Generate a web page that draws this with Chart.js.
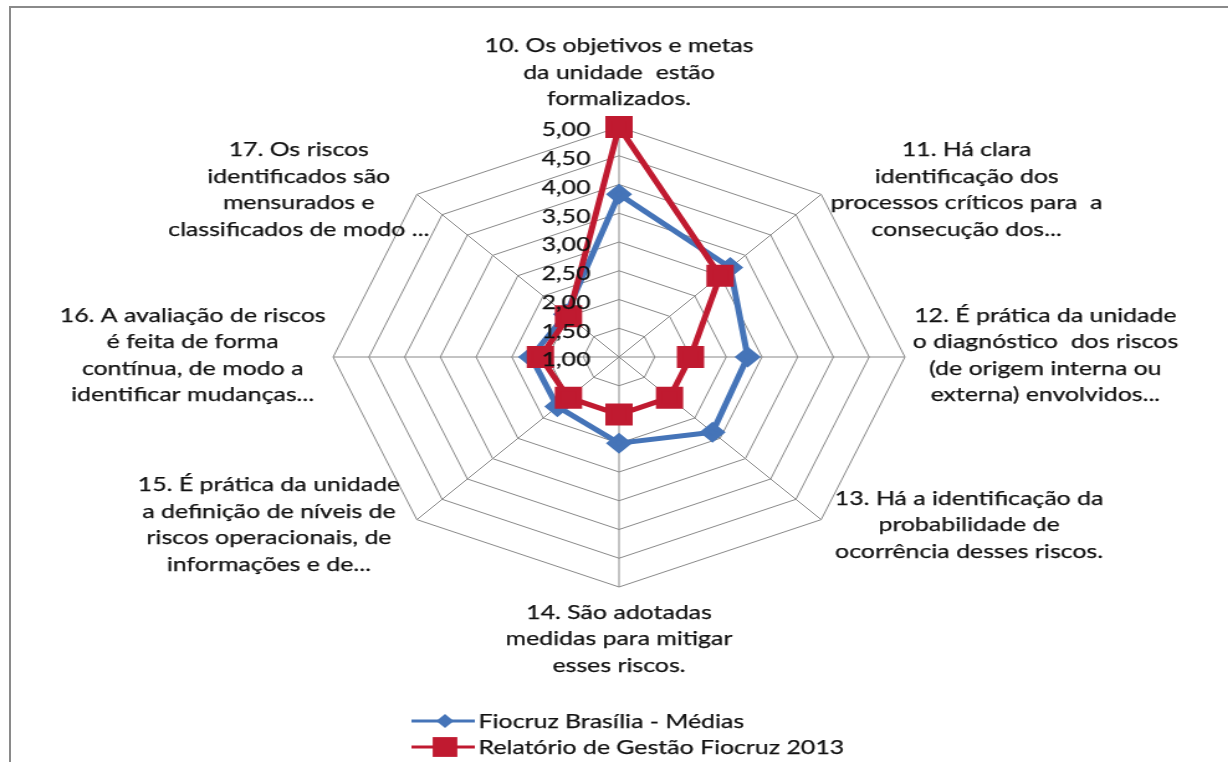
<!DOCTYPE html>
<html>
<head>
<meta charset="utf-8">
<script src="https://cdn.jsdelivr.net/npm/chart.js@4.4.1/dist/chart.umd.min.js"></script>
<style>
  html, body { margin: 0; padding: 0; background: #fff; overflow: hidden; }
  #frame { position: absolute; left: 9px; top: 6px; width: 1240px; height: 780px;
           border-top: 2px solid #8a8a8a; border-left: 2px solid #8a8a8a; }
  #wrap { position: absolute; left: 0; top: 0; width: 988px; height: 762px;
          transform: scaleX(1.243); transform-origin: 0 0; }
</style>
</head>
<body>
<div id="frame"></div>
<div id="wrap"><canvas id="chart" width="988" height="762"></canvas></div>
<script>
const categories = [
  ['10. Os objetivos e metas', 'da unidade  estão', 'formalizados.'],
  ['11. Há clara', 'identificação dos', 'processos críticos para  a', 'consecução dos...'],
  ['12. É prática da unidade', 'o diagnóstico  dos riscos', '(de origem interna ou', 'externa) envolvidos...'],
  ['13. Há a identificação da', 'probabilidade de', 'ocorrência desses riscos.'],
  ['14. São adotadas', 'medidas para mitigar', 'esses riscos.'],
  ['15. É prática da unidade', 'a definição de níveis de', 'riscos operacionais, de', 'informações e de...'],
  ['16. A avaliação de riscos', 'é feita de forma', 'contínua, de modo a', 'identificar mudanças...'],
  ['17. Os riscos', 'identificados são', 'mensurados e', 'classificados de modo ...']
];
const seriesNames = ['Fiocruz Brasília - Médias', 'Relatório de Gestão Fiocruz 2013'];
const brasiliaValues = [3.83, 3.2, 2.8, 2.85, 2.5, 2.22, 2.23, 2.05];
const relatorioValues = [5.0, 3.0, 2.0, 2.0, 2.0, 2.0, 2.1, 2.0];
const tickLabels = ['1,00', '1,50', '2,00', '2,50', '3,00', '3,50', '4,00', '4,50', '5,00'];

const FONT = '20px Lato, "Open Sans", sans-serif';
const BLUE = '#4574b8';
const RED = '#c01a30';
const TEXT = '#111';

// small nudges (canvas px) so label blocks sit where Excel put them
const labelShift = [0, -2, -6, 0, 0, 0, 6, 24];

function darkText(ctx, t, x, y) {
  ctx.fillText(t, x, y);
  ctx.strokeText(t, x, y);
}

// tick labels sit left of the vertical axis, right aligned
const tickLabelPlugin = {
  id: 'tickLabels',
  afterDatasetsDraw(chart) {
    const scale = chart.scales.r;
    const ctx = chart.ctx;
    ctx.save();
    ctx.font = FONT;
    ctx.fillStyle = TEXT;
    ctx.strokeStyle = TEXT;
    ctx.lineWidth = 0.25;
    ctx.textAlign = 'right';
    ctx.textBaseline = 'middle';
    scale.ticks.forEach((tick, i) => {
      const d = scale.getDistanceFromCenterForValue(tick.value);
      darkText(ctx, tickLabels[i], scale.xCenter - 23, scale.yCenter - d + 3);
    });
    ctx.restore();
  }
};

// category labels, centred lines in blocks around the outer ring
const pointLabelPlugin = {
  id: 'pointLabelsExcel',
  afterDraw(chart) {
    const scale = chart.scales.r;
    const ctx = chart.ctx;
    const R = scale.drawingArea;
    const lh = 26.5;
    ctx.save();
    ctx.font = FONT;
    ctx.fillStyle = TEXT;
    ctx.strokeStyle = TEXT;
    ctx.lineWidth = 0.25;
    ctx.textAlign = 'center';
    ctx.textBaseline = 'middle';
    categories.forEach((lines, i) => {
      const p = scale.getPointPosition(i, R);
      const n = lines.length;
      let cx = p.x;
      let cy = p.y;
      const dx = p.x - scale.xCenter;
      const dy = p.y - scale.yCenter;
      if (dx > 1) cx = p.x + 119;
      if (dx < -1) cx = p.x - 119;
      cx += labelShift[i];
      if (Math.abs(dx) <= 1) {
        cy = dy < 0 ? p.y - 15 - n * lh / 2 : p.y + 12 + n * lh / 2;
      } else if (Math.abs(dy) <= 1) {
        cy = p.y - 2;
      } else {
        cy = p.y + (dy < 0 ? -5 : 5);
      }
      lines.forEach((t, k) => {
        darkText(ctx, t, cx, cy - (n - 1) * lh / 2 + k * lh);
      });
    });
    ctx.restore();
  }
};

// two row legend with line + marker like the original
const legendPlugin = {
  id: 'legendRows',
  afterDraw(chart) {
    const ctx = chart.ctx;
    ctx.save();
    ctx.font = FONT;
    ctx.textBaseline = 'middle';
    ctx.textAlign = 'left';
    chart.data.datasets.forEach((ds, i) => {
      const y = 721 + i * 26;
      ctx.strokeStyle = ds.borderColor;
      ctx.lineWidth = 3;
      ctx.beginPath();
      ctx.moveTo(331, y);
      ctx.lineTo(382, y);
      ctx.stroke();
      ctx.fillStyle = ds.borderColor;
      Chart.helpers.drawPoint(ctx, {
        pointStyle: ds.pointStyle, rotation: 0, borderWidth: 0,
        radius: ds.pointStyle === 'rect' ? 14 : 7
      }, 358, y);
      ctx.fillStyle = TEXT;
      ctx.strokeStyle = TEXT;
      ctx.lineWidth = 0.25;
      darkText(ctx, ds.label, 385, y + 1);
    });
    ctx.restore();
  }
};

new Chart(document.getElementById('chart'), {
  type: 'radar',
  data: {
    labels: categories,
    datasets: [
      {
        label: seriesNames[0],
        data: brasiliaValues,
        borderColor: BLUE,
        backgroundColor: BLUE,
        pointBackgroundColor: BLUE,
        pointBorderColor: BLUE,
        pointStyle: 'rectRot',
        pointRadius: 7,
        borderWidth: 5,
        fill: false,
        order: 1
      },
      {
        label: seriesNames[1],
        data: relatorioValues,
        borderColor: RED,
        backgroundColor: RED,
        pointBackgroundColor: RED,
        pointBorderColor: RED,
        pointStyle: 'rect',
        pointRadius: 12,
        borderWidth: 5,
        fill: false,
        order: 0
      }
    ]
  },
  options: {
    responsive: false,
    animation: false,
    devicePixelRatio: 1,
    layout: { padding: { left: 268, right: 260, top: 127, bottom: 175 } },
    plugins: { legend: { display: false }, tooltip: { enabled: false } },
    elements: { line: { tension: 0 } },
    scales: {
      r: {
        min: 1,
        max: 5,
        ticks: { stepSize: 0.5, display: false },
        pointLabels: { display: false },
        grid: { color: '#888888', lineWidth: 1 },
        angleLines: { color: '#888888', lineWidth: 1 }
      }
    }
  },
  plugins: [tickLabelPlugin, pointLabelPlugin, legendPlugin]
});
</script>
</body>
</html>
